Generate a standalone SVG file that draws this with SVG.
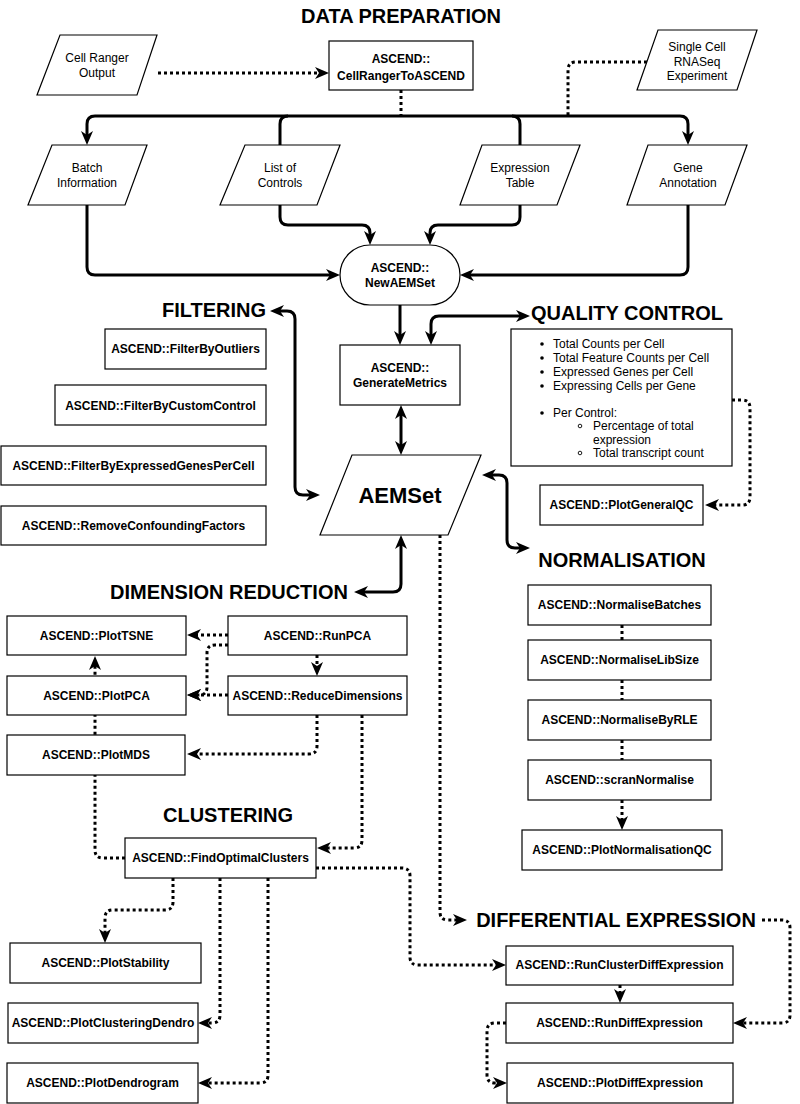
<svg xmlns="http://www.w3.org/2000/svg" width="800" height="1104" viewBox="0 0 800 1104">
<style>
.n{fill:#fff;stroke:#000;stroke-width:1.2}
.t{font-family:"Liberation Sans",Arial,sans-serif;font-size:12px;fill:#000;text-anchor:middle}
.b{font-weight:bold}
.h{font-family:"Liberation Sans",Arial,sans-serif;font-size:20px;font-weight:bold;fill:#000;text-anchor:middle}
.q{font-family:"Liberation Sans",Arial,sans-serif;font-size:12px;fill:#000}
.s{fill:none;stroke:#000;stroke-width:3}
.d{fill:none;stroke:#000;stroke-width:3;stroke-dasharray:3 3}
.e{marker-end:url(#ah)}
.ee{marker-end:url(#ah);marker-start:url(#ah)}
</style>
<defs>
<marker id="ah" viewBox="0 0 14 12" refX="4" refY="6" markerWidth="14" markerHeight="12" markerUnits="userSpaceOnUse" orient="auto-start-reverse">
<path d="M0,0 L14,6 L0,12 L4,6 Z" fill="#000"/>
</marker>
</defs>
<rect width="800" height="1104" fill="#fff"/>
<g id="connectors">
<path class="s e" d="M401,116 L95,116 Q87,116 87,124 L87,135"/>
<path class="s e" d="M401,116 L680,116 Q688,116 688,124 L688,135"/>
<path class="s e" d="M288,116 Q280,116 280,124 L280,217 Q280,225 288,225 L362,225 Q370,225 370,233 L370,235"/>
<path class="s e" d="M512,116 Q520,116 520,124 L520,217 Q520,225 512,225 L438,225 Q430,225 430,233 L430,235"/>
<path class="s e" d="M87,205 L87,267 Q87,275 95,275 L330,275"/>
<path class="s e" d="M688,205 L688,267 Q688,275 680,275 L470,275"/>
<path class="s e" d="M400,305 L400,335"/>
<path class="s ee" d="M431,335 L431,324 Q431,316 439,316 L520,316"/>
<path class="s ee" d="M401,415 L401,445"/>
<path class="s ee" d="M280,311 L287,311 Q295,311 295,319 L295,487 Q295,495 303,495 L310,495"/>
<path class="s ee" d="M401,545 L401,584 Q401,592 393,592 L364,592"/>
<path class="s ee" d="M492,475 L499,475 Q507,475 507,483 L507,540 Q507,548 515,548 L520,548"/>
<path class="d e" d="M158,73 L319,73"/>
<path class="d" d="M401,90 L401,116"/>
<path class="d" d="M647,62 L576,62 Q568,62 568,70 L568,116"/>
<path class="d e" d="M732,400 L742,400 Q750,400 750,408 L750,497 Q750,505 742,505 L715,505"/>
<path class="d e" d="M440,535 L440,912 Q440,920 448,920 L457,920"/>
<path class="d e" d="M228,635 L197,635"/>
<path class="d e" d="M228,645 L215,645 Q207,645 207,653 L207,687 Q207,695 199,695 L197,695"/>
<path class="d e" d="M228,695 L197,695"/>
<path class="d e" d="M317,655 L317,666"/>
<path class="d e" d="M125,858 L103,858 Q95,858 95,850 L95,666"/>
<path class="d e" d="M317,715 L317,746 Q317,754 309,754 L197,754"/>
<path class="d e" d="M362,715 L362,840 Q362,848 354,848 L327,848"/>
<path class="d e" d="M173,878 L173,902 Q173,910 165,910 L113,910 Q105,910 105,918 L105,933"/>
<path class="d e" d="M220,878 L220,1015 Q220,1023 212,1023 L208,1023"/>
<path class="d e" d="M268,878 L268,1075 Q268,1083 260,1083 L208,1083"/>
<path class="d e" d="M316,868 L402,868 Q410,868 410,876 L410,957 Q410,965 418,965 L496,965"/>
<path class="d" d="M622,625 L622,640"/>
<path class="d" d="M622,680 L622,700"/>
<path class="d" d="M622,740 L622,760"/>
<path class="d e" d="M622,800 L622,820"/>
<path class="d e" d="M620,985 L620,993"/>
<path class="d e" d="M762,920 L782,920 Q790,920 790,928 L790,1015 Q790,1023 782,1023 L743,1023"/>
<path class="d e" d="M506,1023 L495,1023 Q487,1023 487,1031 L487,1075 Q487,1083 495,1083 L497,1083"/>
</g>
<g id="title-data-preparation"><text class="h" x="401" y="23">DATA PREPARATION</text></g>
<g id="cell-ranger-output"><polygon class="n" points="60,35 157,35 137,95 37,95"/><text class="t" x="97" y="62">Cell Ranger</text><text class="t" x="97" y="77">Output</text></g>
<g id="cellranger-to-ascend"><rect class="n" x="329" y="41" width="144" height="49"/><text class="t b" x="401" y="63">ASCEND::</text><text class="t b" x="401" y="80">CellRangerToASCEND</text></g>
<g id="single-cell-experiment"><polygon class="n" points="658,30 757,30 737,90 637,90"/><text class="t" x="697" y="51">Single Cell</text><text class="t" x="697" y="66">RNASeq</text><text class="t" x="697" y="80">Experiment</text></g>
<g id="batch-information"><polygon class="n" points="52,145 147,145 125,205 28,205"/><text class="t" x="87" y="172">Batch</text><text class="t" x="87" y="187">Information</text></g>
<g id="list-of-controls"><polygon class="n" points="245,145 340,145 317,205 220,205"/><text class="t" x="280" y="172">List of</text><text class="t" x="280" y="187">Controls</text></g>
<g id="expression-table"><polygon class="n" points="482,145 580,145 557,205 460,205"/><text class="t" x="520" y="172">Expression</text><text class="t" x="520" y="187">Table</text></g>
<g id="gene-annotation"><polygon class="n" points="648,145 747,145 725,205 627,205"/><text class="t" x="688" y="172">Gene</text><text class="t" x="688" y="187">Annotation</text></g>
<g id="new-aemset"><rect class="n" x="340" y="245" width="120" height="60" rx="30" ry="30"/><text class="t b" x="400" y="272">ASCEND::</text><text class="t b" x="400" y="287">NewAEMSet</text></g>
<g id="generate-metrics"><rect class="n" x="340" y="345" width="120" height="60"/><text class="t b" x="400" y="372">ASCEND::</text><text class="t b" x="400" y="387">GenerateMetrics</text></g>
<g id="aemset"><polygon class="n" points="352,455 481,455 448,535 320,535"/><text class="t b" x="400" y="503" style="font-size:22px">AEMSet</text></g>
<g id="title-filtering"><text class="h" x="214" y="317">FILTERING</text></g>
<g id="filter-outliers"><rect class="n" x="105" y="329" width="161" height="40"/><text class="t b" x="185.5" y="353">ASCEND::FilterByOutliers</text></g>
<g id="filter-custom-control"><rect class="n" x="55" y="385" width="211" height="40"/><text class="t b" x="160.5" y="410">ASCEND::FilterByCustomControl</text></g>
<g id="filter-expressed-genes"><rect class="n" x="1" y="446" width="265" height="39"/><text class="t b" x="133.5" y="470">ASCEND::FilterByExpressedGenesPerCell</text></g>
<g id="remove-confounding"><rect class="n" x="1" y="506" width="265" height="39"/><text class="t b" x="133.5" y="530">ASCEND::RemoveConfoundingFactors</text></g>
<g id="title-quality-control"><text class="h" x="627" y="320">QUALITY CONTROL</text></g>
<g id="qc-metrics"><rect class="n" x="511" y="329" width="221" height="137"/>
<circle cx="542" cy="344" r="1.8"/><text class="q" x="553" y="348">Total Counts per Cell</text>
<circle cx="542" cy="358" r="1.8"/><text class="q" x="553" y="362">Total Feature Counts per Cell</text>
<circle cx="542" cy="372" r="1.8"/><text class="q" x="553" y="376">Expressed Genes per Cell</text>
<circle cx="542" cy="386" r="1.8"/><text class="q" x="553" y="390">Expressing Cells per Gene</text>
<circle cx="542" cy="413" r="1.8"/><text class="q" x="553" y="417">Per Control:</text>
<circle cx="580" cy="426" r="1.8" fill="none" stroke="#000" stroke-width="0.9"/><text class="q" x="593" y="430">Percentage of total</text>
<text class="q" x="593" y="444">expression</text>
<circle cx="580" cy="453" r="1.8" fill="none" stroke="#000" stroke-width="0.9"/><text class="q" x="593" y="457">Total transcript count</text>
</g>
<g id="plot-general-qc"><rect class="n" x="540" y="485" width="163" height="40"/><text class="t b" x="621.5" y="509">ASCEND::PlotGeneralQC</text></g>
<g id="title-normalisation"><text class="h" x="622" y="567">NORMALISATION</text></g>
<g id="normalise-batches"><rect class="n" x="528" y="585" width="183" height="40"/><text class="t b" x="619.5" y="609">ASCEND::NormaliseBatches</text></g>
<g id="normalise-libsize"><rect class="n" x="528" y="640" width="183" height="40"/><text class="t b" x="619.5" y="664">ASCEND::NormaliseLibSize</text></g>
<g id="normalise-rle"><rect class="n" x="528" y="700" width="183" height="40"/><text class="t b" x="619.5" y="724">ASCEND::NormaliseByRLE</text></g>
<g id="scran-normalise"><rect class="n" x="528" y="760" width="183" height="40"/><text class="t b" x="619.5" y="784">ASCEND::scranNormalise</text></g>
<g id="plot-normalisation-qc"><rect class="n" x="522" y="830" width="200" height="40"/><text class="t b" x="622" y="854">ASCEND::PlotNormalisationQC</text></g>
<g id="title-dimension-reduction"><text class="h" x="229" y="599">DIMENSION REDUCTION</text></g>
<g id="plot-tsne"><rect class="n" x="7" y="616" width="179" height="39"/><text class="t b" x="96.5" y="640">ASCEND::PlotTSNE</text></g>
<g id="run-pca"><rect class="n" x="228" y="616" width="179" height="39"/><text class="t b" x="317.5" y="640">ASCEND::RunPCA</text></g>
<g id="plot-pca"><rect class="n" x="7" y="676" width="179" height="39"/><text class="t b" x="96.5" y="700">ASCEND::PlotPCA</text></g>
<g id="reduce-dimensions"><rect class="n" x="228" y="676" width="179" height="39"/><text class="t b" x="317.5" y="700">ASCEND::ReduceDimensions</text></g>
<g id="plot-mds"><rect class="n" x="7" y="735" width="178" height="40"/><text class="t b" x="96" y="759">ASCEND::PlotMDS</text></g>
<g id="title-clustering"><text class="h" x="228" y="822">CLUSTERING</text></g>
<g id="find-optimal-clusters"><rect class="n" x="125" y="838" width="191" height="40"/><text class="t b" x="220.5" y="862">ASCEND::FindOptimalClusters</text></g>
<g id="plot-stability"><rect class="n" x="10" y="943" width="191" height="40"/><text class="t b" x="105.5" y="967">ASCEND::PlotStability</text></g>
<g id="plot-clustering-dendro"><rect class="n" x="8" y="1003" width="190" height="40"/><text class="t b" x="103" y="1027">ASCEND::PlotClusteringDendro</text></g>
<g id="plot-dendrogram"><rect class="n" x="7" y="1063" width="191" height="40"/><text class="t b" x="102.5" y="1087">ASCEND::PlotDendrogram</text></g>
<g id="title-differential-expression"><text class="h" x="616" y="927">DIFFERENTIAL EXPRESSION</text></g>
<g id="run-cluster-diff-expression"><rect class="n" x="506" y="946" width="227" height="39"/><text class="t b" x="619.5" y="969">ASCEND::RunClusterDiffExpression</text></g>
<g id="run-diff-expression"><rect class="n" x="506" y="1003" width="227" height="40"/><text class="t b" x="619.5" y="1027">ASCEND::RunDiffExpression</text></g>
<g id="plot-diff-expression"><rect class="n" x="507" y="1063" width="226" height="40"/><text class="t b" x="620" y="1087">ASCEND::PlotDiffExpression</text></g>
</svg>
